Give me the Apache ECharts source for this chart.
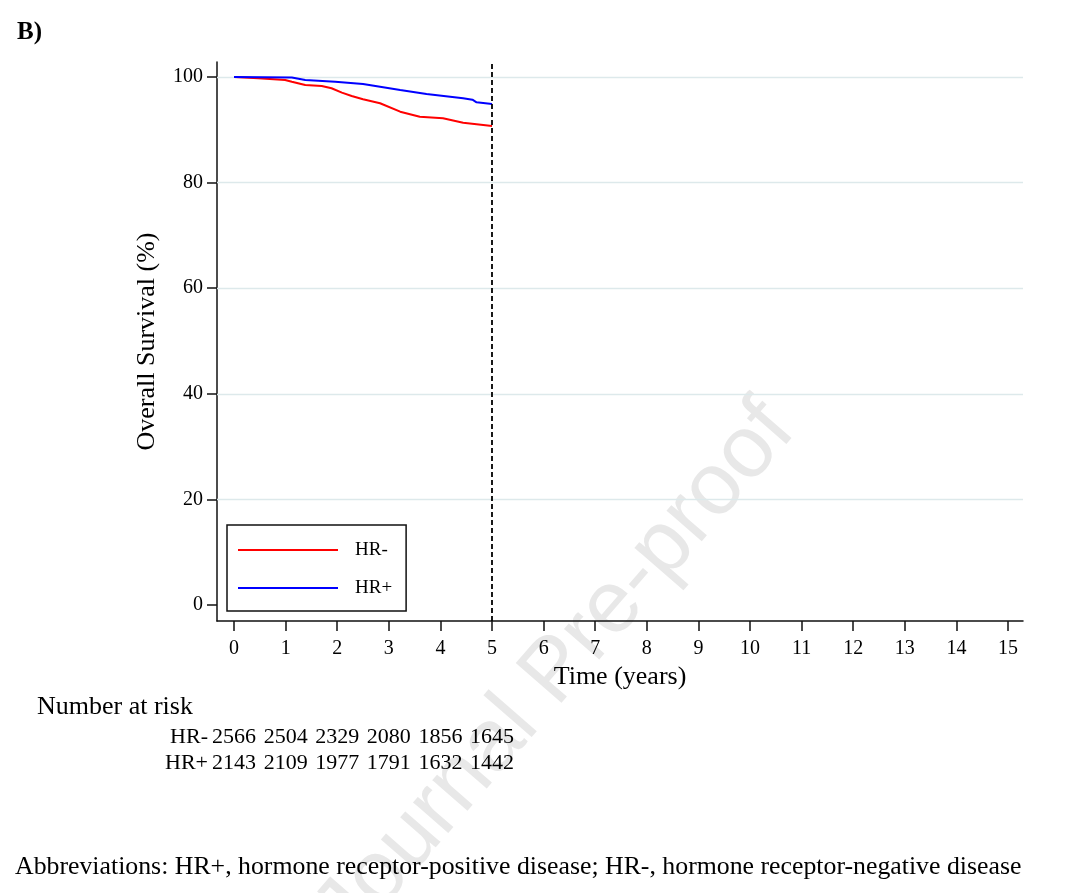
<!DOCTYPE html>
<html>
<head>
<meta charset="utf-8">
<title>Overall survival by HR status</title>
<script src="https://cdn.jsdelivr.net/npm/echarts@6/dist/echarts.min.js"></script>
<style>
  html, body { margin: 0; padding: 0; background: #fff; }
  #chart { width: 1080px; height: 893px; }
</style>
</head>
<body>
<div id="chart"></div>
<script>
// KM curves (years, % surviving)
const hrNegTime = [0, 0.47, 0.99, 1.12, 1.38, 1.70, 1.89, 2.09, 2.28, 2.50, 2.83, 3.22, 3.60, 4.05, 4.44, 4.83, 5.0];
const hrNegSurv = [100, 99.75, 99.43, 99.11, 98.48, 98.3, 97.86, 97.03, 96.4, 95.78, 95.02, 93.43, 92.48, 92.18, 91.34, 90.91, 90.72];
const hrPosTime = [0, 1.12, 1.38, 1.96, 2.50, 2.83, 3.22, 3.73, 4.44, 4.62, 4.70, 5.0];
const hrPosSurv = [100, 99.9, 99.43, 99.11, 98.67, 98.16, 97.54, 96.78, 95.97, 95.7, 95.2, 94.89];

// number at risk table
const riskTimes = [0, 1, 2, 3, 4, 5];
const hrNegRisk = [2566, 2504, 2329, 2080, 1856, 1645];
const hrPosRisk = [2143, 2109, 1977, 1791, 1632, 1442];

// axis ticks
const timeTicks = [0, 1, 2, 3, 4, 5, 6, 7, 8, 9, 10, 11, 12, 13, 14, 15];
const survTicks = [0, 20, 40, 60, 80, 100];
const gridVals = [20, 40, 60, 80, 100];
const cutoffYear = 5;

const FONT = 'Liberation Serif';
const zip = (xs, ys) => xs.map((x, i) => [x, ys[i]]);

const chart = echarts.init(document.getElementById('chart'));

const option = {
    animation: false,
    backgroundColor: '#fff',
    textStyle: { fontFamily: FONT, color: '#000' },
    grid: [
        { left: 217, right: 57, top: 62, bottom: 272 },
        { left: 217, right: 57, top: 724, height: 52 }
    ],
    xAxis: [{
        gridIndex: 0, type: 'value', min: -0.33, max: 15.29,
        name: 'Time (years)', nameLocation: 'middle', nameGap: 38,
        nameTextStyle: { fontFamily: FONT, fontSize: 26, color: '#000' },
        axisLine: { show: true, onZero: false, lineStyle: { color: '#111', width: 1.5 } },
        axisTick: { show: true, length: 10, customValues: timeTicks, lineStyle: { color: '#111', width: 1.5 } },
        axisLabel: { customValues: timeTicks, margin: 18, fontFamily: FONT, fontSize: 20, color: '#000' },
        splitLine: { show: false }
    }, {
        gridIndex: 1, type: 'value', min: -0.33, max: 15.29,
        axisLine: { show: false }, axisTick: { show: false },
        axisLabel: { show: false }, splitLine: { show: false }
    }],
    yAxis: [{
        gridIndex: 0, type: 'value', min: -3.03, max: 102.84,
        name: 'Overall Survival (%)', nameLocation: 'middle', nameGap: 57,
        nameTextStyle: { fontFamily: FONT, fontSize: 26, color: '#000' },
        axisLine: { show: true, onZero: false, lineStyle: { color: '#111', width: 1.5 } },
        axisTick: { show: true, length: 10, customValues: survTicks, lineStyle: { color: '#111', width: 1.5 } },
        axisLabel: { customValues: survTicks, margin: 14, fontFamily: FONT, fontSize: 20, color: '#000' },
        splitLine: { show: false }
    }, {
        gridIndex: 1, type: 'category', data: ['HR+', 'HR-'],
        axisLine: { show: false }, axisTick: { show: false }, splitLine: { show: false },
        axisLabel: { interval: 0, margin: 9, fontFamily: FONT, fontSize: 22, color: '#000' }
    }],
    legend: {
        data: ['HR-', 'HR+'],
        orient: 'vertical',
        left: 227, top: 525,
        padding: [15, 14, 13, 11],
        itemGap: 18,
        itemWidth: 100, itemHeight: 2,
        icon: 'rect',
        borderColor: '#111', borderWidth: 1.5,
        textStyle: { fontFamily: FONT, fontSize: 19, lineHeight: 20, color: '#000', padding: [0, 0, 0, 12] }
    },
    series: [{
        name: 'HR-', type: 'line', xAxisIndex: 0, yAxisIndex: 0,
        data: zip(hrNegTime, hrNegSurv),
        showSymbol: false, symbol: 'none',
        lineStyle: { color: '#ff0000', width: 2 },
        itemStyle: { color: '#ff0000' },
        markLine: {
            silent: true, symbol: 'none', z: 1,
            label: { show: false },
            lineStyle: { color: '#dde9eb', width: 1.3, type: 'solid' },
            data: gridVals.map(v => ({ yAxis: v }))
        }
    }, {
        name: 'HR+', type: 'line', xAxisIndex: 0, yAxisIndex: 0,
        data: zip(hrPosTime, hrPosSurv),
        showSymbol: false, symbol: 'none',
        lineStyle: { color: '#0000ff', width: 2 },
        itemStyle: { color: '#0000ff' },
        markLine: {
            silent: true, symbol: 'none',
            label: { show: false },
            lineStyle: { color: '#000', width: 1.8, type: [5, 3] },
            data: [{ xAxis: cutoffYear }]
        }
    }, {
        name: 'risk', type: 'scatter', xAxisIndex: 1, yAxisIndex: 1,
        symbolSize: 0,
        itemStyle: { opacity: 1 },
        data: riskTimes.map((t, i) => [t, 'HR-', hrNegRisk[i]])
            .concat(riskTimes.map((t, i) => [t, 'HR+', hrPosRisk[i]])),
        label: {
            show: true, position: 'inside',
            fontFamily: FONT, fontSize: 22, color: '#000', opacity: 1,
            formatter: p => String(p.value[2])
        }
    }],
    graphic: [{
        type: 'text', left: 17, top: 20,
        style: { text: 'B)', fontFamily: FONT, fontSize: 25, fontWeight: 'bold', fill: '#000' }
    }, {
        type: 'text', left: 37, top: 694,
        style: { text: 'Number at risk', fontFamily: FONT, fontSize: 26, fill: '#000' }
    }, {
        type: 'text', left: 15, top: 854,
        style: { text: 'Abbreviations: HR+, hormone receptor-positive disease; HR-, hormone receptor-negative disease',
            fontFamily: FONT, fontSize: 25.8, fill: '#000' }
    }, {
        type: 'text', x: 556, y: 672, rotation: 49 * Math.PI / 180, z: -10,
        style: { text: 'Journal Pre-proof', fontFamily: 'Liberation Sans', fontSize: 88,
            fill: '#e8e8e8', align: 'center', verticalAlign: 'middle' }
    }]
};

chart.setOption(option);
</script>
</body>
</html>
